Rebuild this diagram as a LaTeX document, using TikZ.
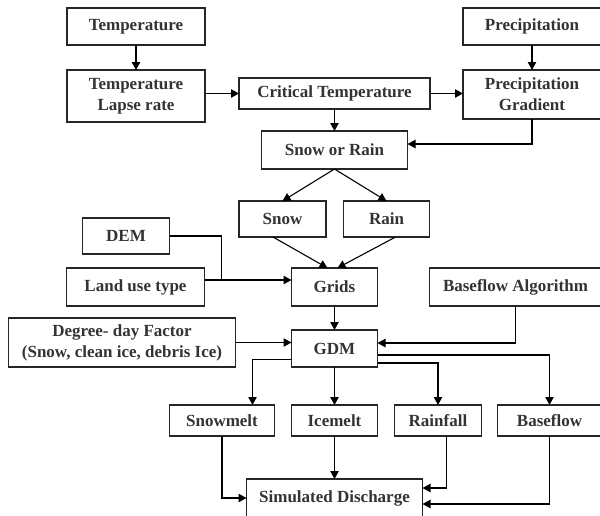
\documentclass[tikz,border=0pt]{standalone}
\usepackage{fontspec}
\setmainfont{Liberation Serif}
\usepackage{tikz}
\usetikzlibrary{arrows.meta, positioning, calc}
\definecolor{Ink}{HTML}{333333}
\tikzset{
  blk/.style={draw=black!85, line width=0.65pt, align=center, inner sep=1pt, outer sep=0pt,
              font=\fontsize{8.5}{10.5}\selectfont\bfseries, text=Ink},
  arr/.style={-{Triangle[length=4pt,width=4.2pt]}, line width=0.55pt},
  ln/.style={line width=0.55pt}
}

\begin{document}
\begin{tikzpicture}
  \useasboundingbox (0,0) rectangle (300pt,-257.5pt);
  \clip (0,0) rectangle (300pt,-257.5pt);
  \node[blk,minimum width=69pt,minimum height=18.5pt] (temp) at (68pt,-13.25pt) {Temperature};
  \node[blk,minimum width=69pt,minimum height=26pt,below=12.5pt of temp] (tlr) {Temperature\\Lapse rate};
  \node[blk,minimum width=95.5pt,minimum height=15.5pt,right=17pt of tlr,yshift=1.25pt] (crit) {Critical Temperature};
  \node[blk,minimum width=73pt,minimum height=19pt,below=11pt of crit] (sor) {Snow or Rain};
  \node[blk,minimum width=69pt,minimum height=18.5pt,right=129pt of temp] (prec) {Precipitation};
  \node[blk,minimum width=69pt,minimum height=24.5pt,below=12.5pt of prec] (pgrad) {Precipitation\\Gradient};
  \node[blk,minimum width=43.5pt,minimum height=18pt,below=16pt of sor,xshift=-26pt] (snow) {Snow};
  \node[blk,minimum width=43pt,minimum height=18pt,below=16pt of sor,xshift=26pt] (rain) {Rain};
  \node[blk,minimum width=43pt,minimum height=19pt,below=49.5pt of sor] (grids) {Grids};
  \node[blk,minimum width=69pt,minimum height=19pt,left=43.5pt of grids] (luse) {Land use type};
  \node[blk,minimum width=43.5pt,minimum height=18pt,above=7pt of luse,xshift=-4.75pt] (dem) {DEM};
  \node[blk,minimum width=86pt,minimum height=19pt,right=26pt of grids] (balg) {Baseflow Algorithm};
  \node[blk,minimum width=43pt,minimum height=18.5pt,below=12pt of grids] (gdm) {GDM};
  \node[blk,minimum width=113.5pt,minimum height=24.5pt,left=28pt of gdm,yshift=3pt] (ddf) {Degree- day Factor\\(Snow, clean ice, debris Ice)};
  \node[blk,minimum width=43pt,minimum height=15.5pt,below=19pt of gdm] (imelt) {Icemelt};
  \node[blk,minimum width=52.5pt,minimum height=15.5pt,left=8.5pt of imelt] (smelt) {Snowmelt};
  \node[blk,minimum width=43.5pt,minimum height=15.5pt,right=8.5pt of imelt] (rfall) {Rainfall};
  \node[blk,minimum width=52pt,minimum height=15.5pt,right=8pt of rfall] (bflow) {Baseflow};
  \node[blk,minimum width=88pt,minimum height=19pt,below=21.5pt of imelt] (sdis) {Simulated Discharge};
  \coordinate (join) at ($(luse.east)+(8.5pt,3.5pt)$);
  \draw[arr](temp)--(tlr); \draw[arr](prec)--(pgrad);
  \draw[arr](tlr.east|-crit)--(crit); \draw[arr](crit.east)--(crit.east-|pgrad.west);
  \draw[arr](crit)--(sor); \draw[arr](pgrad.south)|-([yshift=3pt]sor.east);
  \draw[arr](sor.south)--(snow.north); \draw[arr](sor.south)--(rain.north);
  \draw[arr]([xshift=-4.75pt]snow.south)--([xshift=-3.5pt]grids.north);
  \draw[arr]([xshift=4.5pt]rain.south)--([xshift=1.5pt]grids.north);
  \draw[ln](dem.east)-|(join);
  \draw[arr]([yshift=3.5pt]luse.east)--([yshift=3.5pt]grids.west);
  \draw[arr](grids)--(gdm);
  \draw[arr](balg.south)|-([yshift=2.75pt]gdm.east);
  \draw[arr](ddf.east)--(ddf.east-|gdm.west);
  \draw[arr]([yshift=-5.5pt]gdm.west)-|([xshift=15.25pt]smelt.north);
  \draw[arr](gdm)--(imelt);
  \draw[arr]([yshift=-7.25pt]gdm.east)-|(rfall.north);
  \draw[arr]([yshift=-3.25pt]gdm.east)-|(bflow.north);
  \draw[arr](smelt.south)|-(sdis.west);
  \draw[arr](imelt)--(sdis);
  \draw[arr]([xshift=4.25pt]rfall.south)|-([yshift=5pt]sdis.east);
  \draw[arr](bflow.south)|-([yshift=-3pt]sdis.east);
\end{tikzpicture}
\end{document}
